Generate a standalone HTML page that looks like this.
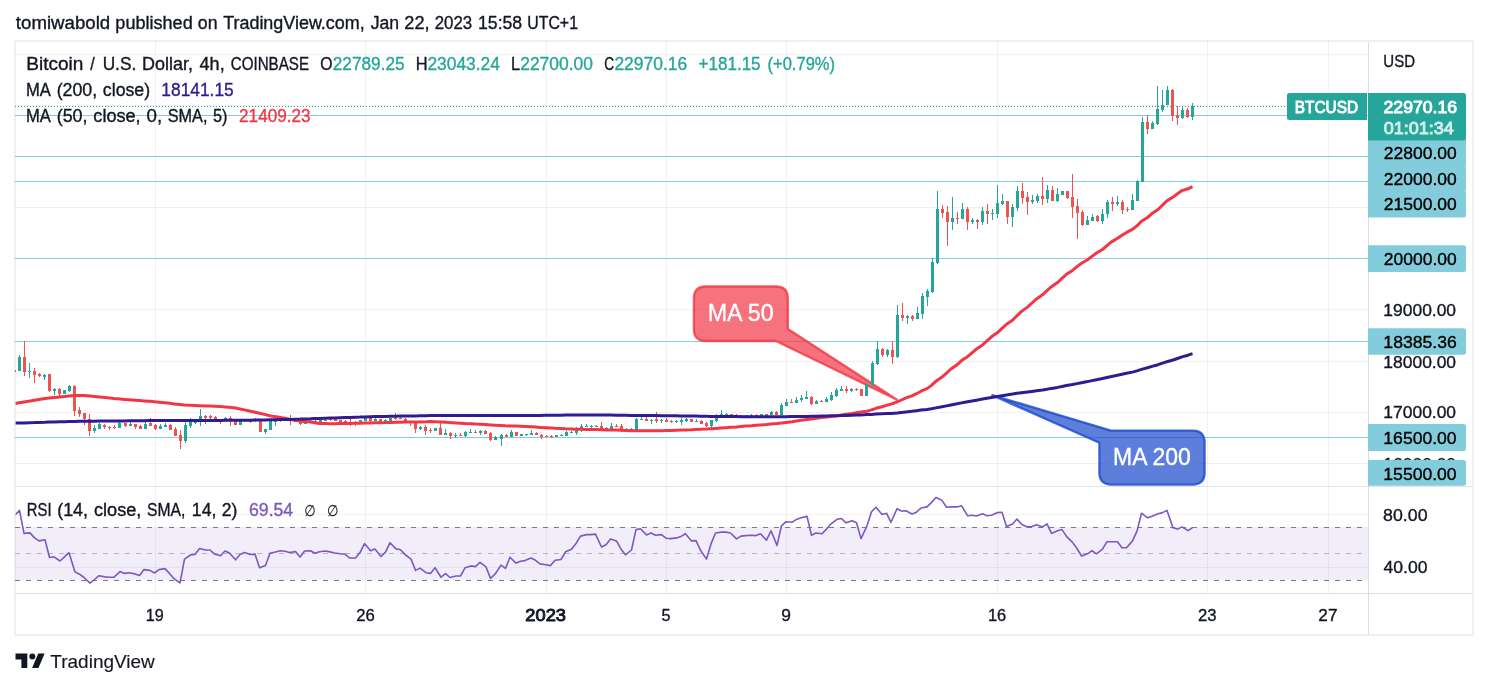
<!DOCTYPE html>
<html lang="en"><head><meta charset="utf-8"><title>BTCUSD chart - TradingView</title>
<style>
html,body{margin:0;padding:0;background:#fff;}
body{width:1488px;height:688px;overflow:hidden;font-family:"Liberation Sans", Arial, sans-serif;}
svg{display:block;}
text{white-space:pre;fill:currentColor;stroke:currentColor;stroke-width:.35px;}
</style></head><body>
<svg width="1488" height="688" viewBox="0 0 1488 688" font-family='"Liberation Sans", Arial, sans-serif'><rect x="15" y="41" width="1458" height="594" fill="none" stroke="#eef0f5" stroke-width="2"/>
<rect x="155" y="41" width="1" height="552" fill="#2a2e39" fill-opacity="0.065" />
<rect x="365" y="41" width="1" height="552" fill="#2a2e39" fill-opacity="0.065" />
<rect x="546" y="41" width="1" height="552" fill="#2a2e39" fill-opacity="0.065" />
<rect x="666" y="41" width="1" height="552" fill="#2a2e39" fill-opacity="0.065" />
<rect x="786" y="41" width="1" height="552" fill="#2a2e39" fill-opacity="0.065" />
<rect x="997" y="41" width="1" height="552" fill="#2a2e39" fill-opacity="0.065" />
<rect x="1207" y="41" width="1" height="552" fill="#2a2e39" fill-opacity="0.065" />
<rect x="1328" y="41" width="1" height="552" fill="#2a2e39" fill-opacity="0.065" />
<rect x="15" y="54" width="1353" height="1" fill="#2a2e39" fill-opacity="0.065" />
<rect x="15" y="105" width="1353" height="1" fill="#2a2e39" fill-opacity="0.065" />
<rect x="15" y="156" width="1353" height="1" fill="#2a2e39" fill-opacity="0.065" />
<rect x="15" y="207" width="1353" height="1" fill="#2a2e39" fill-opacity="0.065" />
<rect x="15" y="258" width="1353" height="1" fill="#2a2e39" fill-opacity="0.065" />
<rect x="15" y="309" width="1353" height="1" fill="#2a2e39" fill-opacity="0.065" />
<rect x="15" y="361" width="1353" height="1" fill="#2a2e39" fill-opacity="0.065" />
<rect x="15" y="412" width="1353" height="1" fill="#2a2e39" fill-opacity="0.065" />
<rect x="15" y="463" width="1353" height="1" fill="#2a2e39" fill-opacity="0.065" />
<rect x="15" y="514" width="1353" height="1" fill="#2a2e39" fill-opacity="0.065" />
<rect x="15" y="567" width="1353" height="1" fill="#2a2e39" fill-opacity="0.065" />
<rect x="15" y="527" width="1353" height="53" fill="#7e57c2" fill-opacity="0.1"/>
<path d="M15 527.5H1368M15 580.5H1368" stroke="#787b86" stroke-width="1" stroke-dasharray="5 6" fill="none" shape-rendering="crispEdges"/>
<path d="M15 553.5H1368" stroke="#787b86" stroke-opacity="0.5" stroke-width="1" stroke-dasharray="5 6" fill="none" shape-rendering="crispEdges"/>
<path d="M15.0 515.2L19.5 510.4L24.0 533.4L30.0 532.9L34.5 537.9L39.0 540.9L45.0 539.7L49.5 557.5L54.0 556.8L60.0 561.0L64.5 556.8L69.0 552.7L75.0 571.9L79.5 574.2L84.0 577.5L90.0 583.2L94.5 579.5L99.0 575.7L105.0 576.9L109.5 577.2L114.0 577.2L120.0 571.6L124.5 573.4L129.0 572.7L135.0 573.9L139.5 575.4L144.0 569.6L150.0 570.4L154.5 573.0L159.0 569.6L165.0 568.6L169.5 573.4L174.0 578.7L180.0 582.9L184.5 559.1L190.5 555.0L195.0 554.5L199.5 548.5L205.5 550.0L210.0 550.0L214.5 554.1L220.5 555.7L225.0 551.0L229.5 553.0L235.5 559.8L240.0 554.5L244.5 552.6L250.5 554.5L255.0 554.1L259.5 567.8L265.5 565.6L270.0 553.3L274.5 552.2L280.5 550.7L285.0 551.2L289.5 552.6L295.5 551.5L300.0 557.1L304.5 551.0L310.5 550.7L315.0 553.3L319.5 551.8L325.5 551.0L330.0 551.9L334.5 553.0L340.5 553.8L345.0 554.2L349.5 558.0L355.5 558.0L360.0 552.6L364.5 543.6L370.5 550.7L375.0 548.9L381.0 556.5L385.5 552.2L390.0 542.7L396.0 548.9L400.5 549.7L405.0 554.5L411.0 559.1L415.5 570.4L420.0 568.1L426.0 572.7L430.5 573.4L435.0 567.7L441.0 577.2L445.5 573.7L450.0 577.5L456.0 576.0L460.5 576.0L465.0 567.8L471.0 565.9L475.5 566.6L480.0 562.4L486.0 566.9L490.5 578.4L495.0 574.2L501.0 565.1L505.5 568.4L510.0 557.2L516.0 563.1L520.5 561.3L525.0 560.6L531.0 558.0L535.5 560.3L540.0 563.9L546.0 564.8L550.5 565.6L555.0 560.3L561.0 559.5L565.5 551.8L571.5 549.2L576.0 543.5L580.5 536.1L586.5 534.6L591.0 534.6L595.5 534.1L601.5 547.0L606.0 544.7L610.5 538.9L616.5 540.9L621.0 549.2L625.5 554.8L631.5 550.0L636.0 529.6L640.5 528.8L646.5 534.9L651.0 533.0L655.5 535.2L661.5 534.6L666.0 538.2L670.5 538.6L676.5 537.9L681.0 536.4L685.5 533.7L691.5 540.9L696.0 540.6L700.5 550.3L706.5 559.1L711.0 543.9L715.5 533.0L721.5 532.1L726.0 532.1L730.5 533.0L736.5 538.9L741.0 536.1L745.5 535.6L751.5 535.3L756.0 535.6L760.5 533.8L766.5 540.2L771.0 530.8L777.0 545.4L781.5 525.8L786.0 521.7L792.0 522.3L796.5 519.4L801.0 517.8L807.0 516.4L811.5 535.3L816.0 533.0L822.0 533.7L826.5 529.1L831.0 523.8L837.0 519.3L841.5 518.5L846.0 522.8L852.0 520.8L856.5 522.8L861.0 538.6L867.0 525.8L871.5 511.7L876.0 507.2L882.0 514.5L886.5 513.2L891.0 522.3L897.0 508.7L901.5 511.0L906.0 510.7L912.0 514.0L916.5 512.2L921.0 508.0L927.0 506.9L931.5 502.4L936.0 497.5L942.0 500.4L946.5 507.2L951.0 506.9L957.0 506.9L961.5 505.7L967.5 515.7L972.0 515.2L976.5 516.0L982.5 513.7L987.0 515.7L991.5 515.2L997.5 512.6L1002.0 512.2L1006.5 526.5L1012.5 524.0L1017.0 519.0L1021.5 524.3L1027.5 526.9L1032.0 526.5L1036.5 524.7L1042.5 526.9L1047.0 523.8L1051.5 533.4L1057.5 530.8L1062.0 529.6L1066.5 536.4L1072.5 542.4L1077.0 548.5L1081.5 556.0L1087.5 553.8L1092.0 550.7L1096.5 553.8L1102.5 549.2L1107.0 541.7L1111.5 541.7L1117.5 541.7L1122.0 547.7L1126.5 547.7L1132.5 540.9L1137.0 531.1L1141.5 513.2L1147.5 517.8L1152.0 516.3L1158.0 513.7L1162.5 512.6L1167.0 510.4L1173.0 527.8L1177.5 529.1L1182.0 526.9L1188.0 530.6L1192.5 527.6" fill="none" stroke="#7e57c2" stroke-width="1.6" stroke-linejoin="round" clip-path="url(#pane)"/>
<rect x="15" y="115" width="1353" height="1" fill="#83ccdb" />
<rect x="15" y="156" width="1353" height="1" fill="#83ccdb" />
<rect x="15" y="181" width="1353" height="1" fill="#83ccdb" />
<rect x="15" y="258" width="1353" height="1" fill="#83ccdb" />
<rect x="15" y="341" width="1353" height="1" fill="#83ccdb" />
<rect x="15" y="437" width="1353" height="1" fill="#83ccdb" />
<path d="M705.9 286.5H775.8Q787.8 286.5 787.8 298.5V329L897 399.8L776 341H705.9Q693.9 341 693.9 329V298.5Q693.9 286.5 705.9 286.5Z" fill="#f23645" fill-opacity="0.7" stroke="#f23645" stroke-opacity="0.8" stroke-width="2.3" stroke-linejoin="round"/>
<text x="707.79" y="321.20" font-size="23.5" color="#fff" textLength="65.76" lengthAdjust="spacingAndGlyphs">MA 50</text>
<path d="M1111 430.6H1192.6Q1204.6 430.6 1204.6 442.6V472.6Q1204.6 484.6 1192.6 484.6H1111.4Q1099.4 484.6 1099.4 472.6V442.8L992.3 395.2Z" fill="#1848cc" fill-opacity="0.7" stroke="#1848cc" stroke-opacity="0.8" stroke-width="2.3" stroke-linejoin="round"/>
<text x="1113.01" y="464.50" font-size="23.5" color="#fff" textLength="77.88" lengthAdjust="spacingAndGlyphs">MA 200</text>
<path d="M15 370h1v2h-1z" fill="#26a69a"/>
<path d="M24 341h1v35h-1zM23 357h3v15h-3zM34 368h1v15h-1zM33 371h3v4h-3zM39 373h1v4h-1zM38 374h3v2h-3zM49 374h1v18h-1zM48 374h3v17h-3zM59 388h1v9h-1zM58 389h3v5h-3zM74 385h1v31h-1zM73 386h3v25h-3zM79 407h1v10h-1zM78 410h3v4h-3zM84 413h1v12h-1zM83 413h3v6h-3zM89 414h1v22h-1zM88 419h3v12h-3zM104 424h1v5h-1zM103 425h3v2h-3zM109 426h1v4h-1zM108 427h3v1h-3zM114 425h1v4h-1zM113 427h3v1h-3zM125 423h1v4h-1zM124 423h3v3h-3zM135 424h1v5h-1zM134 424h3v3h-3zM140 425h1v4h-1zM139 426h3v3h-3zM150 418h1v8h-1zM149 423h3v3h-3zM155 424h1v6h-1zM154 425h3v4h-3zM170 424h1v6h-1zM169 425h3v5h-3zM175 427h1v9h-1zM174 429h3v7h-3zM180 430h1v19h-1zM179 435h3v6h-3zM205 415h1v9h-1zM204 416h3v2h-3zM210 415h1v5h-1zM209 416h3v2h-3zM215 416h1v4h-1zM214 417h3v2h-3zM220 419h1v5h-1zM219 420h3v2h-3zM230 416h1v10h-1zM229 418h3v1h-3zM235 420h1v5h-1zM234 421h3v4h-3zM250 419h1v4h-1zM249 420h3v2h-3zM260 421h1v11h-1zM259 421h3v11h-3zM285 419h1v2h-1zM284 419h3v2h-3zM290 415h1v10h-1zM289 419h3v2h-3zM295 419h1v3h-1zM294 420h3v2h-3zM300 421h1v4h-1zM299 421h3v3h-3zM330 419h1v2h-1zM329 419h3v1h-3zM335 419h1v2h-1zM334 419h3v2h-3zM340 420h1v2h-1zM339 420h3v2h-3zM345 420h1v3h-1zM344 421h3v2h-3zM350 419h1v7h-1zM349 422h3v1h-3zM355 421h1v5h-1zM354 422h3v1h-3zM370 418h1v4h-1zM369 418h3v3h-3zM380 419h1v3h-1zM379 419h3v3h-3zM395 413h1v7h-1zM394 418h3v1h-3zM400 417h1v2h-1zM399 418h3v1h-3zM405 418h1v3h-1zM404 419h3v2h-3zM410 421h1v5h-1zM409 421h3v1h-3zM415 421h1v12h-1zM414 422h3v7h-3zM425 425h1v10h-1zM424 427h3v4h-3zM430 428h1v5h-1zM429 430h3v1h-3zM440 423h1v12h-1zM439 428h3v7h-3zM450 432h1v7h-1zM449 433h3v3h-3zM460 433h1v3h-1zM459 435h3v1h-3zM475 430h1v3h-1zM474 432h3v1h-3zM485 430h1v4h-1zM484 431h3v3h-3zM490 432h1v9h-1zM489 433h3v7h-3zM506 434h1v3h-1zM505 435h3v2h-3zM516 432h1v4h-1zM515 432h3v4h-3zM536 432h1v3h-1zM535 433h3v2h-3zM541 434h1v5h-1zM540 435h3v2h-3zM546 435h1v2h-1zM545 436h3v1h-3zM551 435h1v3h-1zM550 436h3v1h-3zM601 422h1v8h-1zM600 426h3v3h-3zM616 424h1v3h-1zM615 426h3v1h-3zM621 424h1v8h-1zM620 426h3v4h-3zM626 428h1v3h-1zM625 429h3v2h-3zM646 417h1v4h-1zM645 419h3v2h-3zM656 412h1v11h-1zM655 419h3v2h-3zM666 418h1v4h-1zM665 420h3v2h-3zM671 420h1v3h-1zM670 421h3v1h-3zM691 419h1v3h-1zM690 419h3v3h-3zM701 420h1v4h-1zM700 421h3v3h-3zM706 422h1v5h-1zM705 423h3v3h-3zM731 414h1v2h-1zM730 414h3v2h-3zM736 414h1v2h-1zM735 415h3v1h-3zM756 414h1v2h-1zM755 415h3v1h-3zM766 414h1v2h-1zM765 414h3v2h-3zM776 411h1v4h-1zM775 412h3v3h-3zM791 399h1v4h-1zM790 402h3v1h-3zM811 396h1v9h-1zM810 397h3v7h-3zM821 400h1v2h-1zM820 401h3v1h-3zM846 386h1v7h-1zM845 389h3v2h-3zM856 388h1v3h-1zM855 389h3v1h-3zM861 389h1v7h-1zM860 389h3v7h-3zM882 348h1v9h-1zM881 349h3v6h-3zM892 341h1v23h-1zM891 350h3v7h-3zM902 303h1v18h-1zM901 315h3v3h-3zM912 315h1v6h-1zM911 316h3v3h-3zM942 205h1v13h-1zM941 209h3v4h-3zM947 206h1v40h-1zM946 212h3v10h-3zM957 212h1v12h-1zM956 218h3v1h-3zM967 207h1v23h-1zM966 209h3v13h-3zM977 219h1v10h-1zM976 220h3v2h-3zM987 204h1v20h-1zM986 211h3v3h-3zM1007 201h1v23h-1zM1006 201h3v16h-3zM1022 183h1v21h-1zM1021 191h3v7h-3zM1027 192h1v23h-1zM1026 197h3v5h-3zM1042 177h1v28h-1zM1041 196h3v3h-3zM1052 186h1v15h-1zM1051 190h3v11h-3zM1067 191h1v8h-1zM1066 191h3v7h-3zM1072 174h1v44h-1zM1071 197h3v10h-3zM1077 199h1v40h-1zM1076 206h3v7h-3zM1082 210h1v16h-1zM1081 212h3v13h-3zM1097 215h1v7h-1zM1096 216h3v5h-3zM1112 197h1v14h-1zM1111 202h3v2h-3zM1122 200h1v14h-1zM1121 202h3v8h-3zM1127 207h1v5h-1zM1126 209h3v1h-3zM1147 115h1v19h-1zM1146 122h3v7h-3zM1172 89h1v32h-1zM1171 90h3v26h-3zM1177 106h1v19h-1zM1176 115h3v3h-3zM1187 108h1v10h-1zM1186 110h3v7h-3z" fill="#ef5350"/>
<path d="M19 355h1v16h-1zM18 357h3v14h-3zM29 363h1v15h-1zM28 371h3v1h-3zM44 374h1v6h-1zM43 375h3v2h-3zM54 388h1v7h-1zM53 389h3v2h-3zM64 390h1v4h-1zM63 390h3v4h-3zM69 385h1v7h-1zM68 386h3v5h-3zM94 425h1v8h-1zM93 428h3v3h-3zM99 423h1v6h-1zM98 424h3v5h-3zM119 422h1v6h-1zM118 423h3v5h-3zM130 422h1v4h-1zM129 424h3v2h-3zM145 422h1v7h-1zM144 424h3v5h-3zM160 424h1v5h-1zM159 426h3v3h-3zM165 423h1v4h-1zM164 425h3v2h-3zM185 419h1v24h-1zM184 425h3v16h-3zM190 418h1v10h-1zM189 422h3v4h-3zM195 420h1v4h-1zM194 420h3v3h-3zM200 409h1v17h-1zM199 416h3v5h-3zM225 417h1v4h-1zM224 418h3v3h-3zM240 421h1v4h-1zM239 421h3v4h-3zM245 419h1v3h-1zM244 419h3v2h-3zM255 418h1v4h-1zM254 419h3v2h-3zM265 429h1v5h-1zM264 429h3v3h-3zM270 421h1v9h-1zM269 421h3v9h-3zM275 417h1v9h-1zM274 419h3v3h-3zM280 419h1v3h-1zM279 419h3v2h-3zM305 421h1v3h-1zM304 421h3v3h-3zM310 420h1v2h-1zM309 421h3v1h-3zM315 420h1v2h-1zM314 421h3v1h-3zM320 420h1v2h-1zM319 420h3v2h-3zM325 419h1v2h-1zM324 420h3v1h-3zM360 420h1v4h-1zM359 420h3v3h-3zM365 418h1v3h-1zM364 418h3v3h-3zM375 418h1v3h-1zM374 419h3v2h-3zM385 419h1v4h-1zM384 420h3v3h-3zM390 418h1v3h-1zM389 418h3v3h-3zM420 426h1v4h-1zM419 427h3v2h-3zM435 428h1v3h-1zM434 428h3v3h-3zM445 429h1v6h-1zM444 433h3v2h-3zM455 433h1v5h-1zM454 435h3v1h-3zM465 431h1v6h-1zM464 432h3v4h-3zM470 429h1v4h-1zM469 432h3v1h-3zM480 430h1v5h-1zM479 431h3v2h-3zM495 436h1v4h-1zM494 437h3v3h-3zM501 434h1v12h-1zM500 435h3v4h-3zM511 430h1v7h-1zM510 432h3v5h-3zM521 434h1v2h-1zM520 434h3v2h-3zM526 434h1v2h-1zM525 434h3v1h-3zM531 430h1v5h-1zM530 433h3v2h-3zM556 435h1v2h-1zM555 435h3v2h-3zM561 434h1v2h-1zM560 435h3v1h-3zM566 431h1v5h-1zM565 432h3v4h-3zM571 431h1v2h-1zM570 432h3v1h-3zM576 427h1v8h-1zM575 429h3v4h-3zM581 424h1v8h-1zM580 426h3v4h-3zM586 424h1v3h-1zM585 426h3v1h-3zM591 425h1v4h-1zM590 426h3v1h-3zM596 425h1v2h-1zM595 426h3v1h-3zM606 427h1v3h-1zM605 428h3v2h-3zM611 423h1v6h-1zM610 426h3v3h-3zM631 428h1v3h-1zM630 429h3v2h-3zM636 418h1v12h-1zM635 419h3v11h-3zM641 417h1v3h-1zM640 419h3v1h-3zM651 419h1v5h-1zM650 420h3v1h-3zM661 419h1v4h-1zM660 420h3v1h-3zM676 420h1v3h-1zM675 421h3v1h-3zM681 418h1v7h-1zM680 420h3v2h-3zM686 418h1v4h-1zM685 419h3v2h-3zM696 419h1v3h-1zM695 421h3v1h-3zM711 420h1v9h-1zM710 420h3v6h-3zM716 414h1v8h-1zM715 416h3v5h-3zM721 410h1v6h-1zM720 414h3v2h-3zM726 413h1v3h-1zM725 414h3v2h-3zM741 415h1v1h-1zM740 415h3v1h-3zM746 415h1v1h-1zM745 415h3v1h-3zM751 414h1v2h-1zM750 415h3v1h-3zM761 414h1v2h-1zM760 414h3v2h-3zM771 411h1v4h-1zM770 412h3v3h-3zM781 403h1v12h-1zM780 405h3v10h-3zM786 399h1v7h-1zM785 402h3v4h-3zM796 397h1v6h-1zM795 400h3v3h-3zM801 395h1v7h-1zM800 398h3v2h-3zM806 391h1v8h-1zM805 397h3v2h-3zM816 400h1v4h-1zM815 401h3v3h-3zM826 397h1v5h-1zM825 399h3v3h-3zM831 392h1v9h-1zM830 395h3v5h-3zM836 388h1v9h-1zM835 390h3v6h-3zM841 386h1v5h-1zM840 389h3v2h-3zM851 388h1v4h-1zM850 389h3v2h-3zM866 383h1v13h-1zM865 384h3v12h-3zM872 361h1v25h-1zM871 363h3v22h-3zM877 341h1v24h-1zM876 349h3v15h-3zM887 349h1v8h-1zM886 350h3v5h-3zM897 305h1v53h-1zM896 315h3v42h-3zM907 315h1v9h-1zM906 316h3v2h-3zM917 307h1v12h-1zM916 313h3v6h-3zM922 293h1v26h-1zM921 296h3v18h-3zM927 289h1v17h-1zM926 291h3v6h-3zM932 258h1v35h-1zM931 262h3v30h-3zM937 191h1v73h-1zM936 209h3v54h-3zM952 197h1v33h-1zM951 218h3v4h-3zM962 203h1v16h-1zM961 209h3v10h-3zM972 218h1v6h-1zM971 220h3v2h-3zM982 207h1v18h-1zM981 211h3v11h-3zM992 209h1v11h-1zM991 213h3v1h-3zM997 185h1v33h-1zM996 203h3v11h-3zM1002 194h1v11h-1zM1001 201h3v3h-3zM1012 204h1v23h-1zM1011 207h3v10h-3zM1017 186h1v25h-1zM1016 191h3v17h-3zM1032 195h1v9h-1zM1031 200h3v2h-3zM1037 194h1v9h-1zM1036 196h3v5h-3zM1047 185h1v18h-1zM1046 190h3v9h-3zM1057 188h1v14h-1zM1056 194h3v7h-3zM1062 191h1v4h-1zM1061 191h3v4h-3zM1087 216h1v9h-1zM1086 220h3v5h-3zM1092 214h1v7h-1zM1091 217h3v4h-3zM1102 209h1v15h-1zM1101 214h3v7h-3zM1107 200h1v18h-1zM1106 202h3v12h-3zM1117 196h1v10h-1zM1116 202h3v2h-3zM1132 194h1v16h-1zM1131 200h3v10h-3zM1137 180h1v21h-1zM1136 181h3v20h-3zM1142 117h1v65h-1zM1141 122h3v60h-3zM1152 121h1v8h-1zM1151 123h3v6h-3zM1157 86h1v39h-1zM1156 109h3v15h-3zM1162 90h1v22h-1zM1161 105h3v5h-3zM1167 86h1v19h-1zM1166 90h3v15h-3zM1182 106h1v13h-1zM1181 110h3v8h-3zM1192 103h1v17h-1zM1191 106h3v11h-3z" fill="#26a69a"/>
<path d="M15 106.5H1287" stroke="#26a69a" stroke-width="1" stroke-dasharray="1 2" fill="none" shape-rendering="crispEdges"/>
<clipPath id="pane"><rect x="15.6" y="42" width="1352.4" height="551"/></clipPath>
<g clip-path="url(#pane)"><path d="M15.0 403.5L19.5 402.8L24.0 402.0L30.0 401.1L34.5 400.3L39.0 399.6L45.0 398.6L49.5 398.1L54.0 397.6L60.0 397.0L64.5 396.5L69.0 396.1L75.0 395.5L79.5 395.6L84.0 395.6L90.0 395.9L94.5 396.4L99.0 396.9L105.0 397.5L109.5 398.0L114.0 398.5L120.0 399.0L124.5 399.4L129.0 399.7L135.0 400.2L139.5 400.5L144.0 400.9L150.0 401.3L154.5 401.8L159.0 402.2L165.0 402.8L169.5 403.3L174.0 403.9L180.0 404.6L184.5 405.1L190.5 405.3L195.0 405.5L199.5 405.7L205.5 405.9L210.0 406.0L214.5 406.2L220.5 406.6L225.0 407.0L229.5 407.3L235.5 408.0L240.0 409.0L244.5 409.9L250.5 411.2L255.0 412.2L259.5 413.2L265.5 414.6L270.0 415.7L274.5 416.6L280.5 417.5L285.0 418.3L289.5 419.2L295.5 420.2L300.0 420.9L304.5 421.5L310.5 422.1L315.0 422.7L319.5 423.4L325.5 423.6L330.0 423.7L334.5 423.7L340.5 423.5L345.0 423.4L349.5 423.4L355.5 423.3L360.0 423.2L364.5 423.0L370.5 422.9L375.0 422.8L381.0 422.7L385.5 422.6L390.0 422.4L396.0 422.3L400.5 422.2L405.0 422.0L411.0 421.9L415.5 422.0L420.0 421.9L426.0 421.8L430.5 421.6L435.0 421.7L441.0 421.9L445.5 422.2L450.0 422.6L456.0 422.9L460.5 423.3L465.0 423.6L471.0 423.8L475.5 424.1L480.0 424.3L486.0 424.5L490.5 424.9L495.0 425.2L501.0 425.5L505.5 425.8L510.0 425.9L516.0 426.0L520.5 426.2L525.0 426.5L531.0 426.8L535.5 427.1L540.0 427.4L546.0 427.7L550.5 428.0L555.0 428.3L561.0 428.5L565.5 428.8L571.5 429.0L576.0 429.2L580.5 429.3L586.5 429.4L591.0 429.5L595.5 429.6L601.5 429.7L606.0 429.9L610.5 430.0L616.5 430.1L621.0 430.3L625.5 430.5L631.5 430.7L636.0 430.7L640.5 430.7L646.5 430.7L651.0 430.8L655.5 430.8L661.5 430.8L666.0 430.6L670.5 430.5L676.5 430.3L681.0 430.1L685.5 429.9L691.5 429.7L696.0 429.4L700.5 429.2L706.5 429.0L711.0 428.7L715.5 428.4L721.5 428.0L726.0 427.7L730.5 427.3L736.5 427.0L741.0 426.5L745.5 426.1L751.5 425.7L756.0 425.2L760.5 424.9L766.5 424.5L771.0 424.0L777.0 423.6L781.5 423.1L786.0 422.4L792.0 421.8L796.5 421.0L801.0 420.3L807.0 419.5L811.5 418.9L816.0 418.3L822.0 417.6L826.5 417.0L831.0 416.4L837.0 415.7L841.5 415.0L846.0 414.2L852.0 413.5L856.5 412.7L861.0 412.1L867.0 411.2L871.5 409.9L876.0 408.3L882.0 406.8L886.5 405.4L891.0 404.1L897.0 402.0L901.5 400.0L906.0 397.9L912.0 395.9L916.5 393.7L921.0 391.2L927.0 388.6L931.5 385.4L936.0 381.2L942.0 377.1L946.5 373.1L951.0 369.0L957.0 364.8L961.5 360.6L967.5 356.7L972.0 352.8L976.5 349.0L982.5 344.9L987.0 340.8L991.5 336.8L997.5 332.6L1002.0 328.3L1006.5 324.3L1012.5 320.2L1017.0 315.7L1021.5 311.4L1027.5 307.1L1032.0 303.0L1036.5 298.9L1042.5 294.8L1047.0 290.6L1051.5 286.7L1057.5 282.6L1062.0 278.4L1066.5 274.3L1072.5 270.4L1077.0 266.6L1081.5 263.2L1087.5 259.8L1092.0 256.4L1096.5 253.0L1102.5 249.5L1107.0 245.7L1111.5 241.9L1117.5 238.3L1122.0 235.2L1126.5 232.4L1132.5 229.3L1137.0 225.9L1141.5 221.2L1147.5 217.5L1152.0 213.6L1158.0 209.5L1162.5 205.2L1167.0 200.8L1173.0 197.1L1177.5 193.7L1182.0 190.6L1188.0 188.8L1192.5 186.6" fill="none" stroke="#f23645" stroke-width="3" stroke-linejoin="round" stroke-linecap="butt"/>
<path d="M15.0 423.1L19.5 423.0L24.0 422.9L30.0 422.7L34.5 422.6L39.0 422.4L45.0 422.3L49.5 422.1L54.0 422.0L60.0 421.8L64.5 421.7L69.0 421.6L75.0 421.4L79.5 421.3L84.0 421.3L90.0 421.2L94.5 421.2L99.0 421.1L105.0 421.0L109.5 421.0L114.0 421.0L120.0 420.9L124.5 420.9L129.0 420.8L135.0 420.7L139.5 420.7L144.0 420.7L150.0 420.6L154.5 420.6L159.0 420.6L165.0 420.5L169.5 420.5L174.0 420.5L180.0 420.5L184.5 420.5L190.5 420.4L195.0 420.4L199.5 420.4L205.5 420.4L210.0 420.4L214.5 420.4L220.5 420.4L225.0 420.3L229.5 420.3L235.5 420.3L240.0 420.3L244.5 420.3L250.5 420.2L255.0 420.1L259.5 420.0L265.5 419.9L270.0 419.8L274.5 419.7L280.5 419.6L285.0 419.5L289.5 419.4L295.5 419.2L300.0 419.1L304.5 418.9L310.5 418.8L315.0 418.6L319.5 418.5L325.5 418.3L330.0 418.1L334.5 418.0L340.5 417.8L345.0 417.6L349.5 417.4L355.5 417.2L360.0 417.1L364.5 416.9L370.5 416.7L375.0 416.6L381.0 416.5L385.5 416.4L390.0 416.3L396.0 416.2L400.5 416.1L405.0 416.1L411.0 416.0L415.5 415.9L420.0 415.8L426.0 415.7L430.5 415.6L435.0 415.6L441.0 415.6L445.5 415.6L450.0 415.6L456.0 415.6L460.5 415.6L465.0 415.6L471.0 415.6L475.5 415.6L480.0 415.6L486.0 415.6L490.5 415.6L495.0 415.6L501.0 415.6L505.5 415.6L510.0 415.6L516.0 415.5L520.5 415.5L525.0 415.5L531.0 415.4L535.5 415.4L540.0 415.4L546.0 415.3L550.5 415.3L555.0 415.2L561.0 415.2L565.5 415.1L571.5 415.1L576.0 415.0L580.5 415.0L586.5 414.9L591.0 414.9L595.5 415.0L601.5 415.0L606.0 415.1L610.5 415.1L616.5 415.2L621.0 415.3L625.5 415.3L631.5 415.4L636.0 415.4L640.5 415.5L646.5 415.5L651.0 415.6L655.5 415.6L661.5 415.7L666.0 415.7L670.5 415.8L676.5 415.8L681.0 415.9L685.5 416.0L691.5 416.1L696.0 416.1L700.5 416.2L706.5 416.3L711.0 416.4L715.5 416.4L721.5 416.5L726.0 416.6L730.5 416.6L736.5 416.6L741.0 416.7L745.5 416.7L751.5 416.7L756.0 416.7L760.5 416.7L766.5 416.8L771.0 416.8L777.0 416.8L781.5 416.8L786.0 416.7L792.0 416.6L796.5 416.5L801.0 416.5L807.0 416.4L811.5 416.3L816.0 416.2L822.0 416.0L826.5 415.9L831.0 415.8L837.0 415.7L841.5 415.6L846.0 415.5L852.0 415.3L856.5 415.1L861.0 414.9L867.0 414.6L871.5 414.4L876.0 414.1L882.0 413.8L886.5 413.6L891.0 413.4L897.0 412.9L901.5 412.4L906.0 411.9L912.0 411.2L916.5 410.7L921.0 410.1L927.0 409.5L931.5 408.8L936.0 407.9L942.0 406.8L946.5 405.9L951.0 405.0L957.0 403.8L961.5 402.9L967.5 401.8L972.0 401.0L976.5 400.2L982.5 399.1L987.0 398.3L991.5 397.5L997.5 396.5L1002.0 395.8L1006.5 395.0L1012.5 394.1L1017.0 393.3L1021.5 392.8L1027.5 392.0L1032.0 391.4L1036.5 390.7L1042.5 390.0L1047.0 389.3L1051.5 388.4L1057.5 387.4L1062.0 386.5L1066.5 385.5L1072.5 384.5L1077.0 383.6L1081.5 382.7L1087.5 381.6L1092.0 380.6L1096.5 379.7L1102.5 378.5L1107.0 377.5L1111.5 376.5L1117.5 375.3L1122.0 374.3L1126.5 373.3L1132.5 372.1L1137.0 370.9L1141.5 369.4L1147.5 367.8L1152.0 366.4L1158.0 364.7L1162.5 363.2L1167.0 361.7L1173.0 360.0L1177.5 358.5L1182.0 356.9L1188.0 355.2L1192.5 353.7" fill="none" stroke="#311b92" stroke-width="3" stroke-linejoin="round" stroke-linecap="butt"/></g>
<rect x="15" y="486" width="1457" height="1" fill="#e0e3eb" />
<rect x="1368" y="42" width="1" height="592" fill="#dcdde0" />
<rect x="15" y="593" width="1457" height="1" fill="#dcdde0" />
<text x="1383.36" y="315.70" font-size="16.7" color="#131722" textLength="72.70" lengthAdjust="spacingAndGlyphs">19000.00</text>
<text x="1383.36" y="367.60" font-size="16.7" color="#131722" textLength="72.70" lengthAdjust="spacingAndGlyphs">18000.00</text>
<text x="1383.36" y="417.70" font-size="16.7" color="#131722" textLength="72.70" lengthAdjust="spacingAndGlyphs">17000.00</text>
<text x="1383.36" y="469.60" font-size="16.7" color="#131722" textLength="72.70" lengthAdjust="spacingAndGlyphs">16000.00</text>
<text x="1383.35" y="67.00" font-size="17" color="#131722" textLength="31.72" lengthAdjust="spacingAndGlyphs">USD</text>
<text x="1383.14" y="520.90" font-size="16.7" color="#131722" textLength="44.38" lengthAdjust="spacingAndGlyphs">80.00</text>
<text x="1383.50" y="573.10" font-size="16.7" color="#131722" textLength="44.02" lengthAdjust="spacingAndGlyphs">40.00</text>
<path d="M1368 140H1466V164.3Q1466 166.3 1465 166.3Q1466 166.3 1466 168.3V189.3Q1466 191.3 1465 191.3Q1466 191.3 1466 193.3V215.1Q1466 217.6 1463.5 217.6H1368Z" fill="#83ccdb"/>
<text x="1383.88" y="210.00" font-size="16.7" color="#000" textLength="72.78" lengthAdjust="spacingAndGlyphs">21500.00</text>
<text x="1383.88" y="184.60" font-size="16.7" color="#000" textLength="72.78" lengthAdjust="spacingAndGlyphs">22000.00</text>
<text x="1383.88" y="159.40" font-size="16.7" color="#000" textLength="72.78" lengthAdjust="spacingAndGlyphs">22800.00</text>
<path d="M1368 245.2H1463.5Q1466 245.2 1466 247.7V269.4Q1466 271.9 1463.5 271.9H1368Z" fill="#83ccdb"/>
<text x="1383.88" y="264.70" font-size="16.7" color="#000" textLength="72.78" lengthAdjust="spacingAndGlyphs">20000.00</text>
<path d="M1368 328.2H1463.5Q1466 328.2 1466 330.7V352.3Q1466 354.8 1463.5 354.8H1368Z" fill="#83ccdb"/>
<text x="1383.34" y="347.60" font-size="16.7" color="#000" textLength="73.50" lengthAdjust="spacingAndGlyphs">18385.36</text>
<path d="M1368 424H1463.5Q1466 424 1466 426.5V448.4Q1466 450.9 1463.5 450.9H1368Z" fill="#83ccdb"/>
<text x="1383.34" y="443.60" font-size="16.7" color="#000" textLength="73.32" lengthAdjust="spacingAndGlyphs">16500.00</text>
<path d="M1368 459.9H1463.5Q1466 459.9 1466 462.4V483.3Q1466 485.8 1463.5 485.8H1368Z" fill="#83ccdb"/>
<text x="1383.34" y="480.00" font-size="16.7" color="#000" textLength="73.32" lengthAdjust="spacingAndGlyphs">15500.00</text>
<path d="M1368 93H1463.5Q1466 93 1466 95.5V138Q1466 140.6 1463.5 140.6H1368Z" fill="#26a69a"/>
<text x="1383.57" y="112.60" font-size="16.8" color="#fff" textLength="73.52" lengthAdjust="spacingAndGlyphs" style="stroke-width:0.9px">22970.16</text>
<text x="1383.73" y="133.60" font-size="16.8" color="#fff" textLength="70.02" lengthAdjust="spacingAndGlyphs" opacity="0.8" style="stroke-width:0.9px">01:01:34</text>
<path d="M1289.5 93H1367V120H1289.5Q1287 120 1287 117.5V95.5Q1287 93 1289.5 93Z" fill="#26a69a"/>
<text x="1294.82" y="112.60" font-size="16.8" color="#fff" textLength="63.27" lengthAdjust="spacingAndGlyphs" style="stroke-width:0.9px">BTCUSD</text>
<text x="145.71" y="621.00" font-size="16.7" color="#131722" textLength="17.97" lengthAdjust="spacingAndGlyphs">19</text>
<text x="356.17" y="621.00" font-size="16.7" color="#131722" textLength="18.54" lengthAdjust="spacingAndGlyphs">26</text>
<text x="525.39" y="621.00" font-size="16.8" color="#131722" textLength="40.62" lengthAdjust="spacingAndGlyphs" style="stroke-width:0.9px">2023</text>
<text x="661.60" y="621.00" font-size="16.7" color="#131722" textLength="8.98" lengthAdjust="spacingAndGlyphs">5</text>
<text x="781.38" y="621.00" font-size="16.7" color="#131722" textLength="9.67" lengthAdjust="spacingAndGlyphs">9</text>
<text x="987.94" y="621.00" font-size="16.7" color="#131722" textLength="18.26" lengthAdjust="spacingAndGlyphs">16</text>
<text x="1197.92" y="621.00" font-size="16.7" color="#131722" textLength="18.54" lengthAdjust="spacingAndGlyphs">23</text>
<text x="1318.39" y="621.00" font-size="16.7" color="#131722" textLength="19.08" lengthAdjust="spacingAndGlyphs">27</text>
<text y="28.80" font-size="17.6" color="#131722"><tspan x="15.86" textLength="94.35" lengthAdjust="spacingAndGlyphs">tomiwabold</tspan> <tspan x="115.37" textLength="77.37" lengthAdjust="spacingAndGlyphs">published</tspan> <tspan x="197.84" textLength="19.71" lengthAdjust="spacingAndGlyphs">on</tspan> <tspan x="223.19" textLength="141.51" lengthAdjust="spacingAndGlyphs">TradingView.com,</tspan> <tspan x="370.70" textLength="28.45" lengthAdjust="spacingAndGlyphs">Jan</tspan> <tspan x="404.34" textLength="25.35" lengthAdjust="spacingAndGlyphs">22,</tspan> <tspan x="434.71" textLength="37.49" lengthAdjust="spacingAndGlyphs">2023</tspan> <tspan x="478.04" textLength="44.16" lengthAdjust="spacingAndGlyphs">15:58</tspan> <tspan x="527.28" textLength="50.69" lengthAdjust="spacingAndGlyphs">UTC+1</tspan></text>
<text y="69.70" font-size="17.6" color="#131722"><tspan x="26.23" textLength="57.19" lengthAdjust="spacingAndGlyphs">Bitcoin</tspan> <tspan x="90.25" textLength="4.46" lengthAdjust="spacingAndGlyphs">/</tspan> <tspan x="102.67" textLength="33.54" lengthAdjust="spacingAndGlyphs">U.S.</tspan> <tspan x="142.11" textLength="50.85" lengthAdjust="spacingAndGlyphs">Dollar,</tspan> <tspan x="199.59" textLength="25.09" lengthAdjust="spacingAndGlyphs">4h,</tspan> <tspan x="230.79" textLength="78.23" lengthAdjust="spacingAndGlyphs">COINBASE</tspan> <tspan x="320.26" textLength="12.24" lengthAdjust="spacingAndGlyphs">O</tspan><tspan x="332.69" textLength="71.96" lengthAdjust="spacingAndGlyphs" color="#26a69a">22789.25</tspan> <tspan x="415.64" textLength="11.86" lengthAdjust="spacingAndGlyphs">H</tspan><tspan x="427.38" textLength="72.60" lengthAdjust="spacingAndGlyphs" color="#26a69a">23043.24</tspan> <tspan x="510.94" textLength="9.10" lengthAdjust="spacingAndGlyphs">L</tspan><tspan x="520.18" textLength="72.78" lengthAdjust="spacingAndGlyphs" color="#26a69a">22700.00</tspan> <tspan x="604.27" textLength="9.86" lengthAdjust="spacingAndGlyphs">C</tspan><tspan x="614.38" textLength="72.96" lengthAdjust="spacingAndGlyphs" color="#26a69a">22970.16</tspan> <tspan x="698.60" textLength="62.00" lengthAdjust="spacingAndGlyphs" color="#26a69a">+181.15</tspan> <tspan x="767.56" textLength="67.47" lengthAdjust="spacingAndGlyphs" color="#26a69a">(+0.79%)</tspan></text>
<text y="95.80" font-size="17.6" color="#131722"><tspan x="25.97" textLength="23.94" lengthAdjust="spacingAndGlyphs">MA</tspan> <tspan x="56.69" textLength="40.45" lengthAdjust="spacingAndGlyphs">(200,</tspan> <tspan x="102.84" textLength="47.30" lengthAdjust="spacingAndGlyphs">close)</tspan> <tspan x="161.36" textLength="72.39" lengthAdjust="spacingAndGlyphs" color="#311b92">18141.15</tspan></text>
<text y="122.00" font-size="17.6" color="#131722"><tspan x="25.97" textLength="23.94" lengthAdjust="spacingAndGlyphs">MA</tspan> <tspan x="56.68" textLength="30.86" lengthAdjust="spacingAndGlyphs">(50,</tspan> <tspan x="93.33" textLength="47.29" lengthAdjust="spacingAndGlyphs">close,</tspan> <tspan x="146.50" textLength="15.62" lengthAdjust="spacingAndGlyphs">0,</tspan> <tspan x="167.74" textLength="39.69" lengthAdjust="spacingAndGlyphs">SMA,</tspan> <tspan x="212.90" textLength="14.52" lengthAdjust="spacingAndGlyphs">5)</tspan> <tspan x="239.09" textLength="71.52" lengthAdjust="spacingAndGlyphs" color="#f23645">21409.23</tspan></text>
<text y="515.80" font-size="17.6" color="#131722"><tspan x="26.87" textLength="24.67" lengthAdjust="spacingAndGlyphs">RSI</tspan> <tspan x="57.18" textLength="30.86" lengthAdjust="spacingAndGlyphs">(14,</tspan> <tspan x="93.92" textLength="47.50" lengthAdjust="spacingAndGlyphs">close,</tspan> <tspan x="146.97" textLength="38.31" lengthAdjust="spacingAndGlyphs">SMA,</tspan> <tspan x="191.84" textLength="24.50" lengthAdjust="spacingAndGlyphs">14,</tspan> <tspan x="221.87" textLength="15.62" lengthAdjust="spacingAndGlyphs">2)</tspan> <tspan x="249.07" textLength="44.07" lengthAdjust="spacingAndGlyphs" color="#7e57c2">69.54</tspan></text>
<text x="304.2" y="516.3" font-size="15.6" font-family="DejaVu Sans, Liberation Sans, sans-serif" color="#131722" style="stroke-width:0.15px" textLength="11.6" lengthAdjust="spacingAndGlyphs">∅</text>
<text x="327.0" y="516.3" font-size="15.6" font-family="DejaVu Sans, Liberation Sans, sans-serif" color="#131722" style="stroke-width:0.15px" textLength="11.6" lengthAdjust="spacingAndGlyphs">∅</text>
<g fill="#131722"><path d="M15.5 653.6H27.3V668.1H21.4V659.5H15.5Z"/><circle cx="32.3" cy="656.6" r="3"/><path d="M38.2 653.6H44.6L38.5 668.1H32.1Z"/></g>
<text x="50.37" y="668.40" font-size="18.6" color="#131722" textLength="104.43" lengthAdjust="spacingAndGlyphs" style="stroke-width:0.15px">TradingView</text></svg>
</body></html>
